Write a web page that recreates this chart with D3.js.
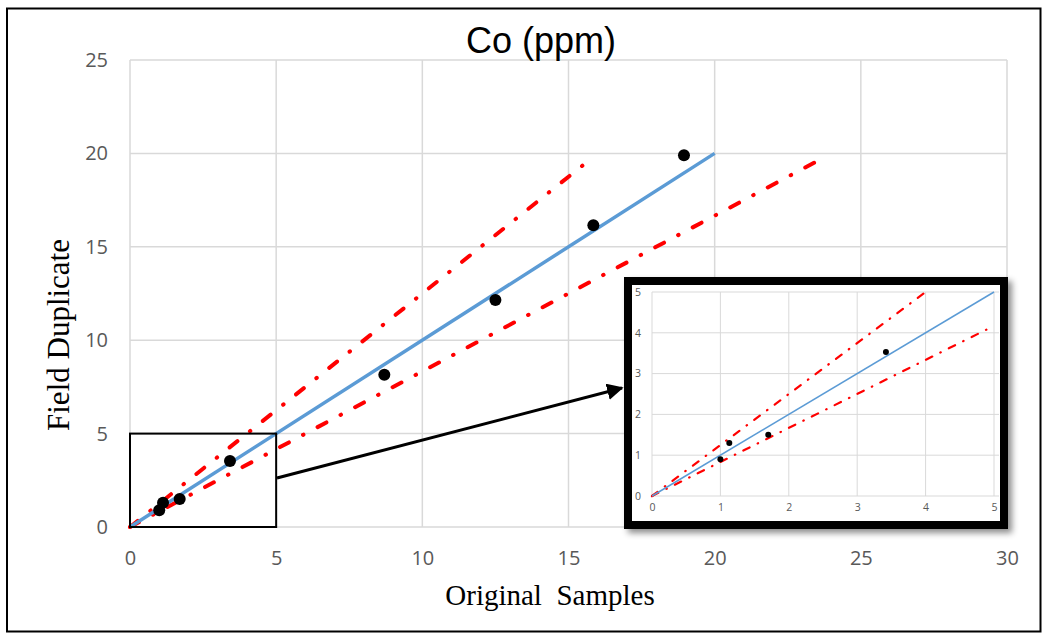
<!DOCTYPE html>
<html>
<head>
<meta charset="utf-8">
<script src="https://cdn.jsdelivr.net/npm/d3@7"></script>
<style>
  html, body { margin: 0; padding: 0; background: #fff; }
  svg { display: block; }
</style>
</head>
<body>
<svg id="chart" width="1043" height="636"></svg>
<script>
// ---- Data ----
const title = "Co (ppm)";
const xTitle = "Original  Samples";
const yTitle = "Field Duplicate";
const originalSamples = [1.0, 1.13, 1.7, 3.42, 8.7, 12.5, 15.85, 18.95];
const fieldDuplicates = [0.9, 1.3, 1.5, 3.53, 8.15, 12.15, 16.15, 19.9];
const xTicks = [0, 5, 10, 15, 20, 25, 30];
const yTicks = [0, 5, 10, 15, 20, 25];
const insetTicks = [0, 1, 2, 3, 4, 5];
const oneToOneLine = [[0, 0], [20, 20]];
const upperLimitLine = [[0, 0], [15.8, 19.75]];
const lowerLimitLine = [[0, 0], [23.7, 19.75]];
const insetOneToOne = [[0, 0], [5, 5]];
const insetUpper = [[0, 0], [4, 5]];
const insetLower = [[0, 0], [5, 4.17]];
const zoomRegion = [[0, 0], [5, 5]];

const svg = d3.select("#chart");
const grid = "#d9d9d9", tickCol = "#595959", blue = "#5b9bd5", red = "#ff0000";

// shadow filter
const defs = svg.append("defs");
const f = defs.append("filter").attr("id", "shadow").attr("x", "-10%").attr("y", "-10%").attr("width", "130%").attr("height", "130%");
f.append("feDropShadow").attr("dx", 4).attr("dy", 4).attr("stdDeviation", 3).attr("flood-color", "#000").attr("flood-opacity", 0.45);
defs.append("marker").attr("id", "arrow").attr("viewBox", "0 0 10 10").attr("refX", 9).attr("refY", 5)
  .attr("markerWidth", 5.5).attr("markerHeight", 5.5).attr("markerUnits", "strokeWidth").attr("orient", "auto")
  .append("path").attr("d", "M0,0 L10,5 L0,10 Z").attr("fill", "#000");

// outer frame
svg.append("rect").attr("x", 7).attr("y", 8.5).attr("width", 1033.5).attr("height", 623)
  .attr("fill", "#fff").attr("stroke", "#000").attr("stroke-width", 2);

// ---- Main scales ----
const x = d3.scaleLinear().domain([0, 30]).range([130, 1007]);
const y = d3.scaleLinear().domain([0, 25]).range([527, 60]);

const g = svg.append("g");
// gridlines
g.append("g").selectAll("line").data(xTicks).join("line")
  .attr("x1", d => x(d)).attr("x2", d => x(d)).attr("y1", y(0)).attr("y2", y(25))
  .attr("stroke", grid).attr("stroke-width", 1.5);
g.append("g").selectAll("line").data(yTicks).join("line")
  .attr("x1", x(0)).attr("x2", x(30)).attr("y1", d => y(d)).attr("y2", d => y(d))
  .attr("stroke", grid).attr("stroke-width", 1.5);

// axes (labels only)
const xAxis = g.append("g").attr("transform", `translate(0,${y(0)})`)
  .call(d3.axisBottom(x).tickValues(xTicks).tickSize(0).tickPadding(24));
const yAxis = g.append("g").attr("transform", `translate(${x(0)},0)`)
  .call(d3.axisLeft(y).tickValues(yTicks).tickSize(0).tickPadding(22));
[xAxis, yAxis].forEach(a => {
  a.select(".domain").remove();
  a.selectAll("text").attr("fill", tickCol).attr("font-family", "Open Sans, sans-serif").attr("font-size", 20);
});

const line = d3.line().x(d => x(d[0])).y(d => y(d[1]));
g.append("path").attr("d", line(upperLimitLine)).attr("fill", "none").attr("stroke", red)
  .attr("stroke-width", 4).attr("stroke-linecap", "round").attr("stroke-dasharray", "10,16,0.5,16");
g.append("path").attr("d", line(lowerLimitLine)).attr("fill", "none").attr("stroke", red)
  .attr("stroke-width", 4).attr("stroke-linecap", "round").attr("stroke-dasharray", "10,16,0.5,16");
g.append("path").attr("d", line(oneToOneLine)).attr("fill", "none").attr("stroke", blue).attr("stroke-width", 3.5);

g.append("g").selectAll("circle").data(originalSamples).join("circle")
  .attr("cx", d => x(d)).attr("cy", (d, i) => y(fieldDuplicates[i])).attr("r", 6).attr("fill", "#000");

// zoom box
g.append("rect").attr("x", x(zoomRegion[0][0])).attr("y", y(zoomRegion[1][1]))
  .attr("width", x(zoomRegion[1][0]) - x(zoomRegion[0][0])).attr("height", y(zoomRegion[0][1]) - y(zoomRegion[1][1]))
  .attr("fill", "none").attr("stroke", "#000").attr("stroke-width", 2);

// titles
svg.append("text").attr("x", 541).attr("y", 53).attr("text-anchor", "middle")
  .attr("font-family", "Liberation Sans, Arial, sans-serif").attr("font-size", 36).attr("fill", "#000").text(title);
svg.append("text").attr("x", 550).attr("y", 605).attr("text-anchor", "middle").attr("xml:space", "preserve")
  .style("white-space", "pre")
  .attr("font-family", "Liberation Serif, Times New Roman, serif").attr("font-size", 29).attr("fill", "#000").text(xTitle);
svg.append("text").attr("transform", "translate(69,335) rotate(-90)").attr("text-anchor", "middle")
  .attr("font-family", "Liberation Serif, Times New Roman, serif").attr("font-size", 31).attr("fill", "#000").text(yTitle);

// arrow
svg.append("line").attr("x1", 277).attr("y1", 478).attr("x2", 622).attr("y2", 388)
  .attr("stroke", "#000").attr("stroke-width", 3).attr("marker-end", "url(#arrow)");

// ---- Inset ----
const inset = svg.append("g");
inset.append("rect").attr("x", 628).attr("y", 281).attr("width", 376).attr("height", 244)
  .attr("fill", "#fff").attr("stroke", "#000").attr("stroke-width", 8).attr("filter", "url(#shadow)");
const ix = d3.scaleLinear().domain([0, 5]).range([652, 994]);
const iy = d3.scaleLinear().domain([0, 5]).range([496, 292]);
inset.append("g").selectAll("line").data(insetTicks).join("line")
  .attr("x1", d => ix(d)).attr("x2", d => ix(d)).attr("y1", iy(0)).attr("y2", iy(5))
  .attr("stroke", grid).attr("stroke-width", 1);
inset.append("g").selectAll("line").data(insetTicks).join("line")
  .attr("x1", ix(0)).attr("x2", 999).attr("y1", d => iy(d)).attr("y2", d => iy(d))
  .attr("stroke", grid).attr("stroke-width", 1);
const ixA = inset.append("g").attr("transform", `translate(0,${iy(0)})`)
  .call(d3.axisBottom(ix).tickValues(insetTicks).tickFormat(d3.format("d")).tickSize(0).tickPadding(8));
const iyA = inset.append("g").attr("transform", `translate(${ix(0)},0)`)
  .call(d3.axisLeft(iy).tickValues(insetTicks).tickFormat(d3.format("d")).tickSize(0).tickPadding(11));
[ixA, iyA].forEach(a => {
  a.select(".domain").remove();
  a.selectAll("text").attr("fill", tickCol).attr("font-family", "Open Sans, sans-serif").attr("font-size", 10.5);
});
const iline = d3.line().x(d => ix(d[0])).y(d => iy(d[1]));
inset.append("path").attr("d", iline(insetUpper)).attr("fill", "none").attr("stroke", red)
  .attr("stroke-width", 2.2).attr("stroke-linecap", "round").attr("stroke-dasharray", "7,9,0.5,9");
inset.append("path").attr("d", iline(insetLower)).attr("fill", "none").attr("stroke", red)
  .attr("stroke-width", 2.2).attr("stroke-linecap", "round").attr("stroke-dasharray", "7,9,0.5,9");
inset.append("path").attr("d", iline(insetOneToOne)).attr("fill", "none").attr("stroke", blue).attr("stroke-width", 1.5);
inset.append("g").selectAll("circle").data(originalSamples.filter(v => v <= 5)).join("circle")
  .attr("cx", d => ix(d)).attr("cy", (d, i) => iy(fieldDuplicates[i])).attr("r", 3).attr("fill", "#000");
</script>
</body>
</html>
